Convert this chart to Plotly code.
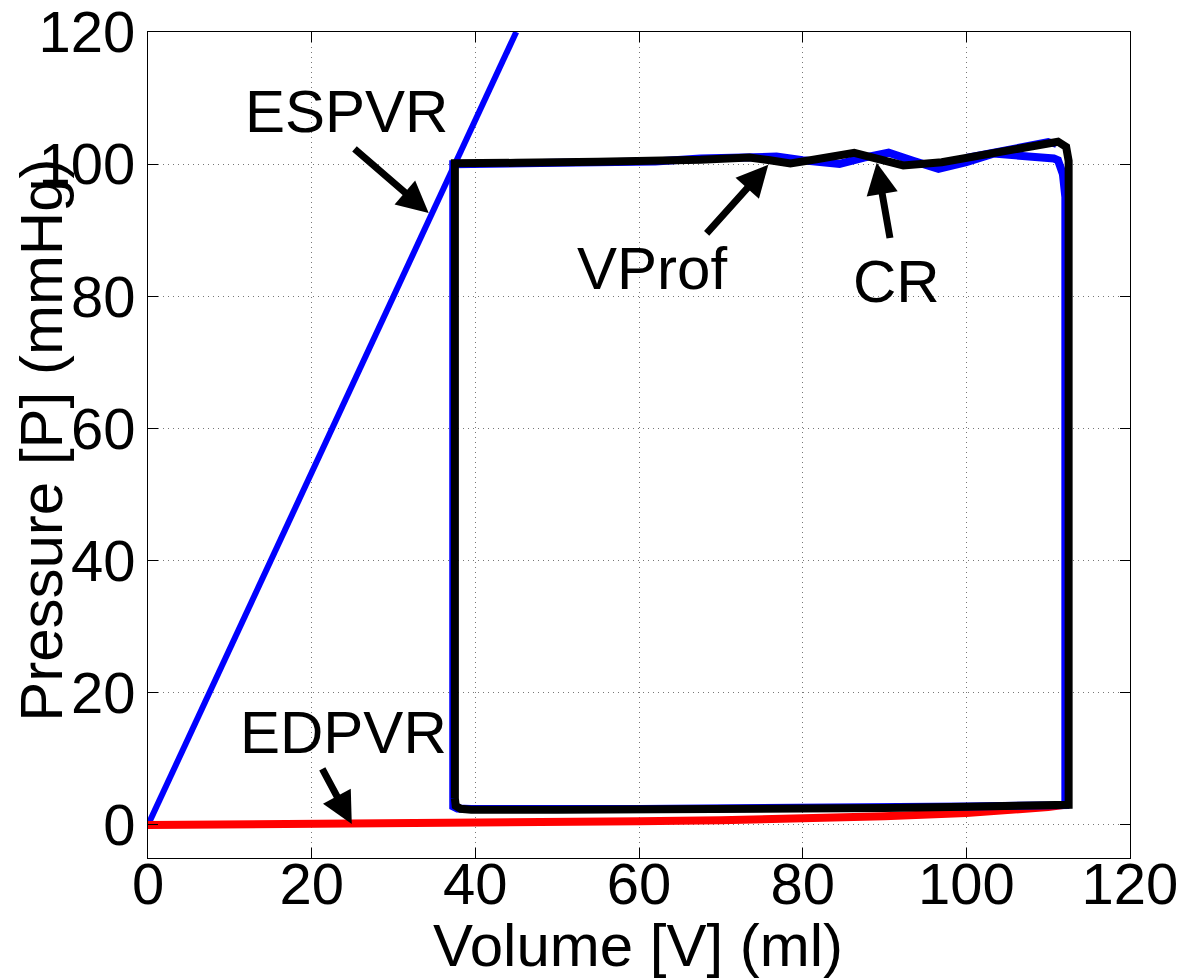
import plotly.graph_objects as go

# ---- data ----
ESPVR_V = [0, 45]
ESPVR_P = [0, 120]

EDPVR_V = [0, 10, 20, 30, 40, 50, 60, 70, 80, 90, 100, 105, 110, 112.3]
EDPVR_P = [0, 0.05, 0.1, 0.2, 0.3, 0.4, 0.55, 0.7, 0.95, 1.3, 1.8, 2.2, 2.7, 3.1]

# CR loop (blue)
CR_V = [37.3, 37.3, 37.8, 39.5, 60, 80, 100, 112.1, 112.1, 111.8, 111.2, 110.7, 107.4, 103.3,
        100, 96.6, 93.5, 90.5, 87.5, 84.5, 80, 76.8, 67.5, 62, 50, 37.3, 37.3]
CR_P = [4, 2.8, 2.5, 2.4, 2.4, 2.5, 2.8, 3.0, 95, 98.5, 100.6, 100.85, 101.3, 101.6,
        100.3, 99.3, 100.5, 101.75, 101.0, 100.05, 100.6, 101.15, 100.85, 100.4, 100.2, 100.0, 4]
CR_UPPER_V = [100, 103.3, 107.4, 110, 111]
CR_UPPER_P = [101.0, 101.8, 102.6, 103.4, 103.0]

# VProf loop (black)
VPROF_V = [37.5, 37.6, 38.2, 39.5, 50, 60, 70, 80, 90, 100, 108, 112.5, 112.5, 112.2, 111.2,
           103, 97, 92.3, 88.5, 86.3, 81.5, 78.5, 76, 73.5, 67.5, 62, 55, 45, 37.5, 37.5]
VPROF_P = [4.0, 2.9, 2.45, 2.3, 2.3, 2.3, 2.35, 2.4, 2.55, 2.75, 2.9, 3.05, 100.5, 102.6, 103.4,
           101.6, 100.3, 99.8, 101.2, 101.7, 100.7, 100.1, 100.6, 101.0, 100.65, 100.45, 100.35, 100.2, 100.15, 4.0]

X_TICKS = [0, 20, 40, 60, 80, 100, 120]
Y_TICKS = [0, 20, 40, 60, 80, 100, 120]

# labels: (text, x, y)
LABELS = [("ESPVR", 24.2, 107.9), ("VProf", 61.6, 84.2), ("CR", 91.5, 82.2), ("EDPVR", 23.9, 14.0)]
# arrows: (tail_x, tail_y, head_x, head_y)
ARROWS = [(25.05, 102.5, 34.3, 92.6), (68.1, 89.3, 75.8, 99.9),
          (90.7, 88.6, 89.05, 100.2), (21.2, 8.7, 24.9, 0.15)]

FONT = "Liberation Sans, Arial, Helvetica, sans-serif"

fig = go.Figure()
fig.add_trace(go.Scatter(x=ESPVR_V, y=ESPVR_P, mode="lines", line=dict(color="#0000ff", width=6)))
fig.add_trace(go.Scatter(x=EDPVR_V, y=EDPVR_P, mode="lines", line=dict(color="#ff0000", width=8)))
fig.add_trace(go.Scatter(x=CR_V, y=CR_P, mode="lines", line=dict(color="#0000ff", width=8)))
fig.add_trace(go.Scatter(x=CR_UPPER_V, y=CR_UPPER_P, mode="lines", line=dict(color="#0000ff", width=7)))
fig.add_trace(go.Scatter(x=VPROF_V, y=VPROF_P, mode="lines", line=dict(color="#000000", width=8)))

annotations = []
for text, x, y in LABELS:
    annotations.append(dict(text=text, x=x, y=y, xref="x", yref="y", showarrow=False,
                            font=dict(family=FONT, size=60, color="black"),
                            xanchor="center", yanchor="middle"))
for tx, ty, hx, hy in ARROWS:
    annotations.append(dict(text="", x=hx, y=hy, xref="x", yref="y", ax=tx, ay=ty,
                            axref="x", ayref="y", showarrow=True, arrowhead=2,
                            arrowsize=0.9, arrowwidth=7, arrowcolor="black", standoff=0))
annotations.append(dict(text="Volume [V] (ml)", x=0.499, y=0, xref="paper", yref="paper",
                        yshift=-87, showarrow=False, xanchor="center", yanchor="middle",
                        font=dict(family=FONT, size=60, color="black")))
annotations.append(dict(text="Pressure [P] (mmHg)", x=0, y=0.505, xref="paper", yref="paper",
                        xshift=-106, showarrow=False, xanchor="center", yanchor="middle",
                        textangle=-90, font=dict(family=FONT, size=60, color="black")))

axis_common = dict(showline=True, linecolor="black", linewidth=1, mirror="ticks",
                   ticks="inside", ticklen=10, tickwidth=1, tickcolor="black",
                   showgrid=True, gridcolor="#777777", gridwidth=1, griddash="1px,4px",
                   zeroline=False, ticklabeloverflow="allow", automargin=False,
                   tickfont=dict(family=FONT, size=58, color="black"))

fig.update_layout(
    width=1192, height=980,
    margin=dict(l=148, r=62, t=32, b=122),
    paper_bgcolor="white", plot_bgcolor="white",
    showlegend=False,
    xaxis=dict(range=[0, 120], tickvals=X_TICKS, ticklabelstandoff=-25, **axis_common),
    yaxis=dict(range=[-5, 120], tickvals=Y_TICKS, **axis_common),
    annotations=annotations,
)

fig.write_html("out.html")
